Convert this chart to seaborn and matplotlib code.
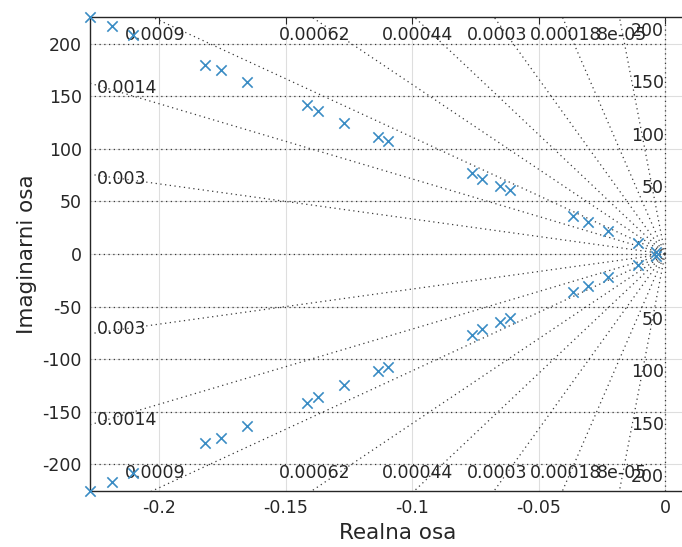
import numpy as np
import pandas as pd
import matplotlib
matplotlib.use("Agg")
import matplotlib.pyplot as plt
import seaborn as sns

# ---- data (upper-half poles; lower half are conjugates) ----
pole_re = [-0.2273, -0.2186, -0.2103, -0.1818, -0.1755, -0.1652, -0.1415, -0.1372,
           -0.1269, -0.1134, -0.1095, -0.0763, -0.0723, -0.0652, -0.0613, -0.0364,
           -0.0304, -0.0225, -0.0107, -0.0035]
pole_im = [225.3, 216.7, 208.0, 179.7, 174.9, 163.5, 141.6, 136.0,
           124.5, 111.2, 107.4, 77.0, 71.3, 64.6, 60.8, 36.1,
           30.4, 21.9, 10.5, 1.5]
zetas = [8e-05, 0.00018, 0.0003, 0.00044, 0.00062, 0.0009, 0.0014, 0.003]
wns = [50, 100, 150, 200]
xticks = [-0.2, -0.15, -0.1, -0.05, 0]
yticks = [-200, -150, -100, -50, 0, 50, 100, 150, 200]
xlabel = "Realna osa"
ylabel = "Imaginarni osa"

sns.set_style("white")
plt.rcParams['font.family'] = ['DejaVu Sans']

W, H = 682, 547
fig = plt.figure(figsize=(W / 100, H / 100), dpi=100)
left_px, right_px, top_px, bot_px = 90, 705, 17, 491
ax = fig.add_axes([left_px / W, 1 - bot_px / H, (right_px - left_px) / W, (bot_px - top_px) / H])

xmin = -0.2273
ymax = 225.3
px_per_x = 126.5 / 0.05
xmax = (right_px - 665) / px_per_x

df = pd.DataFrame({
    "re": list(pole_re) + list(pole_re),
    "im": list(pole_im) + [-v for v in pole_im],
})

ax.set_xlim(xmin, xmax)
ax.set_ylim(-ymax, ymax)
ax.set_xticks(xticks)
ax.set_yticks(yticks)
ax.set_xticklabels(["-0.2", "-0.15", "-0.1", "-0.05", "0"])
ax.set_yticklabels([str(v) for v in yticks])
ax.grid(True, color="#dedede", lw=0.8, zorder=0)
ax.set_axisbelow(True)

dot = dict(color="#3a3a3a", lw=0.9, linestyle=(0, (1, 2.8)), zorder=1)
# damping lines
R = 1000.0
for z in zetas:
    s = np.sqrt(1 - z * z)
    for sg in (1, -1):
        ax.plot([0, -R * z], [0, sg * R * s], **dot)
# zeta = 1 and zeta = 0 lines
ax.plot([0, -1], [0, 0], **dot)
ax.plot([0, 0], [-R, R], **dot)
# natural frequency circles
xs = np.linspace(xmin * 1.05, 0, 200)
for wn in wns:
    yc = np.sqrt(wn ** 2 - xs ** 2)
    ax.plot(xs, yc, **dot)
    ax.plot(xs, -yc, **dot)

txtc = "#262626"
fs_t = 12.5
# damping labels
for z in zetas:
    s = np.sqrt(1 - z * z)
    lab = f"{z:.2g}"
    xe = -ymax * z / s
    if xe >= xmin:
        ax.annotate(lab, (xe, ymax), xytext=(3, -18), textcoords="offset pixels",
                    ha="center", va="center", fontsize=fs_t, color=txtc, zorder=3)
        ax.annotate(lab, (xe, -ymax), xytext=(3, 18), textcoords="offset pixels",
                    ha="center", va="center", fontsize=fs_t, color=txtc, zorder=3)
    else:
        ye = -xmin * s / z
        ax.annotate(lab, (xmin, ye), xytext=(7, -5), textcoords="offset pixels",
                    ha="left", va="center", fontsize=fs_t, color=txtc, zorder=3)
        ax.annotate(lab, (xmin, -ye), xytext=(7, 5), textcoords="offset pixels",
                    ha="left", va="center", fontsize=fs_t, color=txtc, zorder=3)
# natural frequency labels
for wn in wns:
    ax.annotate(str(wn), (0, wn), xytext=(-1, 13), textcoords="offset pixels",
                ha="right", va="center", fontsize=fs_t, color=txtc, zorder=3)
    ax.annotate(str(wn), (0, -wn), xytext=(-1, -13), textcoords="offset pixels",
                ha="right", va="center", fontsize=fs_t, color=txtc, zorder=3)

sns.scatterplot(data=df, x="re", y="im", marker="x", s=55, color="#3a8cc4",
                linewidth=1.2, ax=ax, zorder=4, clip_on=False)

ax.set_xlim(xmin, xmax)
ax.set_ylim(-ymax, ymax)
ax.set_xlabel(xlabel, fontsize=15.5, color=txtc, labelpad=4)
ax.set_ylabel(ylabel, fontsize=15.5, color=txtc, labelpad=4)
ax.tick_params(direction="in", top=True, right=True, length=5, width=0.8,
               labelsize=fs_t, colors=txtc, pad=6)
for sp in ax.spines.values():
    sp.set_color("#262626")
    sp.set_linewidth(1.0)

fig.savefig("out.png", dpi=100)
